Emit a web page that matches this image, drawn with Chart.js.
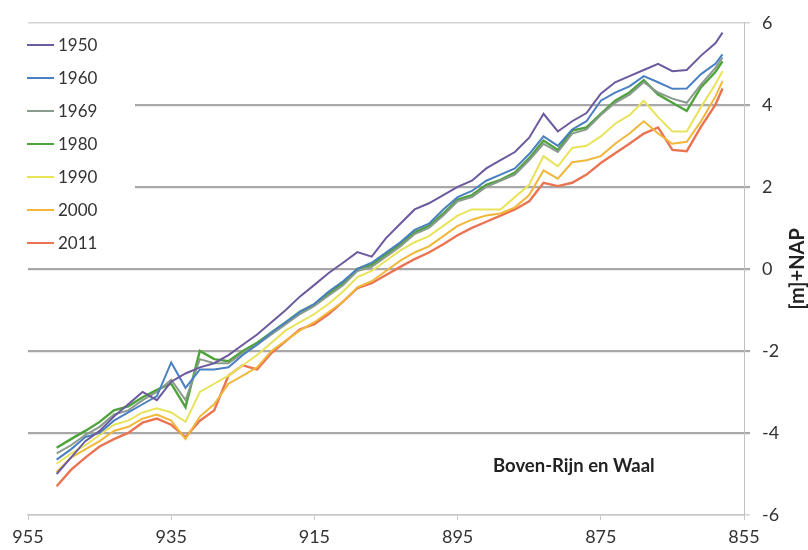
<!DOCTYPE html>
<html>
<head>
<meta charset="utf-8">
<script src="https://cdn.jsdelivr.net/npm/chart.js@4.4.1/dist/chart.umd.min.js"></script>
<style>
    html, body { margin: 0; padding: 0; background: #fff; }
    #wrap { width: 808px; height: 550px; }
</style>
</head>
<body>
<div id="wrap"><canvas id="profile"></canvas></div>
<script>
// river km (Boven-Rijn / Waal)
const km = [951, 949, 947, 945, 943, 941, 939, 937, 935, 933, 931, 929, 927, 925, 923, 921,
    919, 917, 915, 913, 911, 909, 907, 905, 903, 901, 899, 897, 895, 893, 891, 889,
    887, 885, 883, 881, 879, 877, 875, 873, 871, 869, 867, 865, 863, 861, 859, 858];

const years = ['1950', '1960', '1969', '1980', '1990', '2000', '2011'];
const colors = ['#6b5a9e', '#4a80c2', '#8a9a8c', '#4ea33c', '#e9e35a', '#f0b73a', '#ea7452'];

const y1950 = [-5.0, -4.6, -4.2, -3.95, -3.6, -3.3, -3.0, -3.2, -2.75, -2.55, -2.4, -2.3, -2.1, -1.85, -1.6, -1.3,
    -1.0, -0.67, -0.39, -0.1, 0.15, 0.41, 0.3, 0.75, 1.1, 1.45, 1.6, 1.8, 2.0, 2.15, 2.45, 2.65,
    2.85, 3.2, 3.78, 3.35, 3.6, 3.8, 4.27, 4.55, 4.7, 4.85, 5.0, 4.82, 4.85, 5.2, 5.5, 5.76];
const y1960 = [-4.65, -4.4, -4.1, -4.0, -3.7, -3.5, -3.3, -3.1, -2.28, -2.9, -2.45, -2.45, -2.4, -2.1, -1.85, -1.55,
    -1.3, -1.05, -0.85, -0.55, -0.3, 0.0, 0.15, 0.4, 0.65, 0.95, 1.1, 1.45, 1.75, 1.9, 2.15, 2.3,
    2.45, 2.8, 3.23, 3.0, 3.4, 3.6, 4.1, 4.3, 4.45, 4.7, 4.55, 4.39, 4.4, 4.75, 5.0, 5.23];
const y1969 = [-4.5, -4.3, -4.05, -3.85, -3.55, -3.45, -3.2, -3.0, -2.7, -3.2, -2.2, -2.3, -2.3, -2.05, -1.85, -1.6,
    -1.35, -1.1, -0.9, -0.65, -0.4, -0.05, 0.05, 0.3, 0.55, 0.85, 1.0, 1.3, 1.65, 1.75, 2.0, 2.15,
    2.3, 2.65, 3.05, 2.85, 3.3, 3.4, 3.75, 4.05, 4.25, 4.55, 4.3, 4.15, 4.05, 4.5, 4.9, 5.15];
const y1980 = [-4.36, -4.15, -3.95, -3.73, -3.45, -3.35, -3.13, -2.95, -2.8, -3.37, -2.0, -2.2, -2.25, -2.0, -1.8, -1.55,
    -1.3, -1.04, -0.87, -0.6, -0.35, 0.0, 0.1, 0.35, 0.6, 0.89, 1.05, 1.35, 1.69, 1.8, 2.05, 2.17,
    2.35, 2.7, 3.13, 2.9, 3.37, 3.45, 3.78, 4.1, 4.3, 4.6, 4.25, 4.05, 3.85, 4.43, 4.8, 5.06];
const y1990 = [-4.75, -4.5, -4.3, -4.05, -3.8, -3.7, -3.5, -3.4, -3.5, -3.73, -3.0, -2.8, -2.6, -2.35, -2.1, -1.8,
    -1.5, -1.3, -1.1, -0.85, -0.55, -0.2, -0.05, 0.2, 0.45, 0.65, 0.8, 1.05, 1.3, 1.45, 1.45, 1.45,
    1.75, 2.05, 2.75, 2.5, 2.95, 3.0, 3.23, 3.54, 3.75, 4.1, 3.7, 3.35, 3.35, 3.95, 4.5, 4.82];
const y2000 = [-4.95, -4.6, -4.4, -4.2, -3.95, -3.85, -3.65, -3.55, -3.7, -4.15, -3.6, -3.3, -2.8, -2.6, -2.4, -2.0,
    -1.75, -1.5, -1.3, -1.05, -0.8, -0.45, -0.3, -0.05, 0.2, 0.4, 0.55, 0.8, 1.05, 1.2, 1.3, 1.35,
    1.5, 1.8, 2.4, 2.2, 2.6, 2.65, 2.75, 3.05, 3.3, 3.6, 3.3, 3.05, 3.1, 3.6, 4.2, 4.58];
const y2011 = [-5.3, -4.9, -4.6, -4.33, -4.15, -4.0, -3.75, -3.65, -3.8, -4.1, -3.7, -3.45, -2.6, -2.35, -2.45, -2.05,
    -1.76, -1.47, -1.35, -1.1, -0.8, -0.47, -0.35, -0.15, 0.05, 0.24, 0.4, 0.6, 0.82, 1.0, 1.15, 1.3,
    1.45, 1.65, 2.1, 2.02, 2.1, 2.3, 2.58, 2.82, 3.05, 3.3, 3.45, 2.9, 2.87, 3.47, 4.0, 4.4];

const series = [y1950, y1960, y1969, y1980, y1990, y2000, y2011];

const yTicks = [-6, -4, -2, 0, 2, 4, 6];
const xTicks = [955, 935, 915, 895, 875, 855];
const riverName = 'Boven-Rijn en Waal';
const yTitle = '[m]+NAP';

const tickFont = { family: 'Lato', size: 18 };

// legend box in the upper left + river name + rotated y title
const decorations = {
    id: 'decorations',
    afterDraw(chart) {
        const { ctx, chartArea } = chart;
        ctx.save();
        ctx.fillStyle = '#fff';
        ctx.fillRect(18, 26, 117, 234);
        ctx.font = '17px Lato';
        ctx.textBaseline = 'middle';
        ctx.textAlign = 'left';
        years.forEach((year, i) => {
            const y = 45 + i * 33;
            ctx.strokeStyle = colors[i];
            ctx.lineWidth = 2;
            ctx.beginPath();
            ctx.moveTo(27, y);
            ctx.lineTo(54, y);
            ctx.stroke();
            ctx.fillStyle = '#333';
            ctx.fillText(year, 58, y + 1);
        });

        ctx.font = 'bold 18.5px Lato';
        ctx.fillStyle = '#222';
        ctx.fillText(riverName, 493, 466);

        ctx.translate(798, (chartArea.top + chartArea.bottom) / 2);
        ctx.rotate(-Math.PI / 2);
        ctx.textAlign = 'center';
        ctx.font = 'bold 20px Lato';
        ctx.fillText(yTitle, 0, 0);
        ctx.restore();
    },
};

const datasets = series.map((values, index) => ({
    label: years[index],
    data: km.map((k, i) => ({ x: k, y: values[i] })),
    borderColor: colors[index],
    borderWidth: index === 3 || index === 6 ? 2.4 : 2,
    pointRadius: 0,
    tension: 0,
    fill: false,
}));

// eslint-disable-next-line no-new
new Chart(document.getElementById('profile').getContext('2d'), {
    type: 'line',
    data: { datasets },
    plugins: [decorations],
    options: {
        responsive: true,
        maintainAspectRatio: false,
        animation: false,
        layout: { padding: { left: 28, top: 18, right: 0, bottom: 0 } },
        plugins: {
            legend: { display: false },
            tooltip: { enabled: false },
        },
        scales: {
            x: {
                type: 'linear',
                reverse: true,
                min: 855,
                max: 955,
                afterBuildTicks: (scale) => { scale.ticks = xTicks.map((v) => ({ value: v })); },
                afterFit: (scale) => { scale.height = 35; },
                grid: {
                    drawOnChartArea: false,
                    drawTicks: true,
                    tickLength: 5,
                    color: '#c8c8c8',
                },
                border: { color: '#c8c8c8', width: 1.5 },
                ticks: { color: '#333', font: tickFont, padding: 6, maxRotation: 0 },
            },
            y: {
                position: 'right',
                min: -6,
                max: 6,
                afterBuildTicks: (scale) => { scale.ticks = yTicks.map((v) => ({ value: v })); },
                afterFit: (scale) => { scale.width = 64; },
                grid: {
                    color: (c) => (c.tick && (c.tick.value === 6 || c.tick.value === -6) ? '#d4d4d4' : '#a8a8a8'),
                    lineWidth: (c) => (c.tick && (c.tick.value === 6 || c.tick.value === -6) ? 1.5 : 2.2),
                    tickLength: 6,
                },
                border: { color: '#c0c0c0', width: 1 },
                ticks: { color: '#333', font: tickFont, padding: 12 },
            },
        },
    },
});
</script>
</body>
</html>
